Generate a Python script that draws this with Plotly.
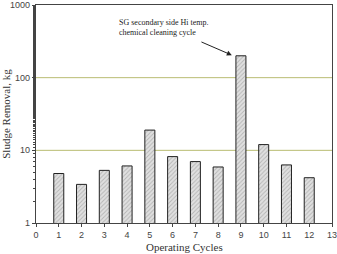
import plotly.graph_objects as go

cycles = [1, 2, 3, 4, 5, 6, 7, 8, 9, 10, 11, 12]
sludge = [4.8, 3.4, 5.3, 6.1, 19, 8.2, 7.0, 5.9, 200, 12, 6.3, 4.2]
x_ticks = list(range(0, 14))
y_ticks = [1, 10, 100, 1000]
ref_levels = [10, 100]

fig = go.Figure()
fig.add_trace(go.Bar(
    x=cycles, y=sludge, width=0.44,
    marker=dict(color="#d9d9d9", line=dict(color="#222", width=1),
                pattern=dict(shape="/", fgcolor="#888", bgcolor="#e0e0e0", size=3, solidity=0.3)),
    showlegend=False,
))
for lv in ref_levels:
    fig.add_shape(type="line", xref="paper", x0=0, x1=1, yref="y", y0=lv, y1=lv,
                  line=dict(color="#b9bc72", width=1), layer="below")

fig.add_annotation(x=3.55, y=2.69, xref="x", yref="y", xanchor="left", align="left",
                   text="SG secondary side Hi temp.<br>chemical cleaning cycle",
                   showarrow=False, font=dict(family="Liberation Serif", size=8, color="#222"))
fig.add_annotation(x=8.6, y=2.31, xref="x", yref="y", ax=7.2, ay=2.5, axref="x", ayref="y",
                   text="", showarrow=True, arrowhead=2, arrowsize=1, arrowwidth=1, arrowcolor="#222")
fig.add_annotation(x=0.5, y=-0.141, xref="paper", yref="paper", xanchor="center", yanchor="bottom",
                   text="Operating Cycles", showarrow=False, borderpad=0,
                   font=dict(family="Liberation Serif", size=11, color="#333"))

fig.update_layout(
    width=337, height=254, margin=dict(l=36, r=5, t=5, b=31),
    plot_bgcolor="white", paper_bgcolor="white",
    font=dict(family="Liberation Sans", size=9, color="#444"),
)
fig.update_xaxes(range=[0, 13], tickvals=x_ticks, ticks="outside", ticklen=3, automargin=False,
                 ticklabeloverflow="allow",
                 showline=True, linecolor="#444", linewidth=1.2, mirror=True, showgrid=False,
                 zeroline=False)
fig.update_yaxes(type="log", range=[0, 3], tickvals=y_ticks, ticktext=[str(v) for v in y_ticks],
                 ticks="outside", ticklen=3, showline=True, linecolor="#444", linewidth=1.2, mirror=True,
                 showgrid=False, automargin=False, ticklabeloverflow="allow",
                 minor=dict(ticks="outside", ticklen=2, tickcolor="#444", showgrid=False),
                 title=dict(text="Sludge Removal, kg", font=dict(family="Liberation Serif", size=11, color="#333"), standoff=4))

fig.write_html("out.html")
